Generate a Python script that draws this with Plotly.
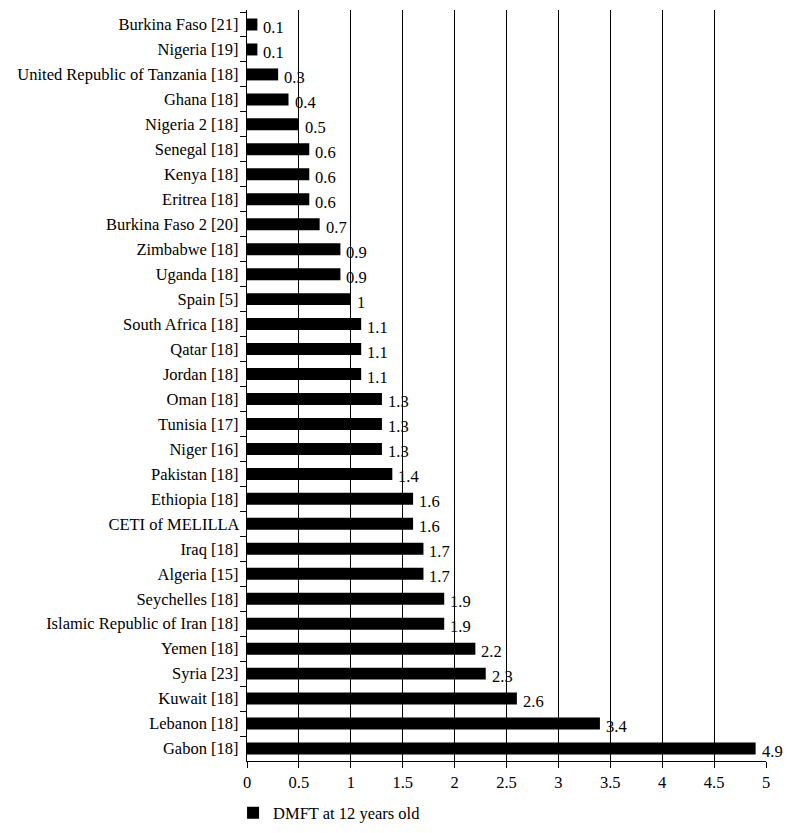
import plotly.graph_objects as go

countries = [
    "Burkina Faso [21]", "Nigeria [19]", "United Republic of Tanzania [18]", "Ghana [18]",
    "Nigeria 2 [18]", "Senegal [18]", "Kenya [18]", "Eritrea [18]", "Burkina Faso 2 [20]",
    "Zimbabwe [18]", "Uganda [18]", "Spain [5]", "South Africa [18]", "Qatar [18]",
    "Jordan [18]", "Oman [18]", "Tunisia [17]", "Niger [16]", "Pakistan [18]",
    "Ethiopia [18]", "CETI of MELILLA", "Iraq [18]", "Algeria [15]", "Seychelles [18]",
    "Islamic Republic of Iran [18]", "Yemen [18]", "Syria [23]", "Kuwait [18]",
    "Lebanon [18]", "Gabon [18]",
]
dmft = [
    0.1, 0.1, 0.3, 0.4, 0.5, 0.6, 0.6, 0.6, 0.7, 0.9, 0.9, 1, 1.1, 1.1, 1.1, 1.3, 1.3,
    1.3, 1.4, 1.6, 1.6, 1.7, 1.7, 1.9, 1.9, 2.2, 2.3, 2.6, 3.4, 4.9,
]
labels = [f"{v:g}" for v in dmft]
x_ticks = [0, 0.5, 1, 1.5, 2, 2.5, 3, 3.5, 4, 4.5, 5]
x_ticktext = [f"{t:g}" for t in x_ticks]

FONT = "Liberation Serif"
FS = 16.5

fig = go.Figure()
fig.add_trace(go.Bar(
    y=countries, x=dmft, orientation="h",
    marker=dict(color="black", line=dict(width=0)),
    width=0.48,
    name="DMFT at 12 years old", showlegend=True,
))

for c, v, t in zip(countries, dmft, labels):
    fig.add_annotation(
        x=v, y=c, text=t, showarrow=False, xanchor="left", yanchor="middle",
        xshift=4, yshift=-3, font=dict(family=FONT, size=FS, color="black"),
    )

fig.update_layout(
    width=790, height=833,
    margin=dict(l=247, r=24, t=10, b=72, autoexpand=False),
    plot_bgcolor="white", paper_bgcolor="white",
    font=dict(family=FONT, size=FS, color="black"),
    legend=dict(orientation="h", xref="container", yref="container",
                x=0.295, y=0.024, xanchor="left", yanchor="middle",
                font=dict(family=FONT, size=FS, color="black")),
    xaxis=dict(
        range=[0, 5], tickvals=x_ticks, ticktext=x_ticktext,
        showgrid=True, gridcolor="black", gridwidth=1,
        showline=True, linecolor="black", linewidth=1,
        ticks="outside", ticklen=6, tickcolor="black",
        zeroline=False, fixedrange=True, automargin=False,
    ),
    yaxis=dict(
        autorange="reversed", type="category",
        showline=True, linecolor="black", linewidth=1,
        ticks="outside", ticklen=6, tickcolor="black", tickson="boundaries",
        showgrid=False, zeroline=False, ticksuffix=" ", automargin=False,
        fixedrange=True,
    ),
)

fig.write_html("out.html", config={"displayModeBar": False},
               post_script="document.body.style.margin='0';")
